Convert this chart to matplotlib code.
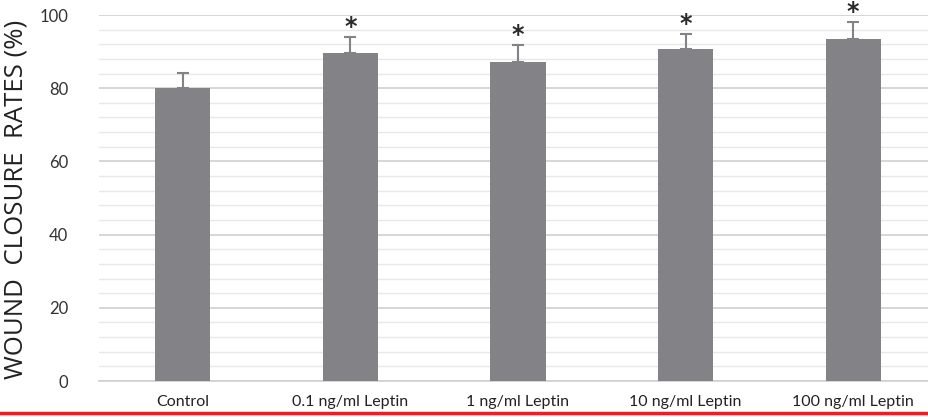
import matplotlib.pyplot as plt
from matplotlib.lines import Line2D
from matplotlib.ticker import MultipleLocator

plt.rcParams['font.family'] = ['Lato', 'DejaVu Sans']

# data
categories = ['Control', '0.1 ng/ml Leptin', '1 ng/ml Leptin', '10 ng/ml Leptin', '100 ng/ml Leptin']
rates = [80.1, 89.6, 87.2, 90.6, 93.5]
errors = [4.1, 4.4, 4.6, 4.3, 4.6]
significant = [False, True, True, True, True]

fig = plt.figure(figsize=(9.29, 4.17), dpi=100)
ax = fig.add_axes([99 / 929, 36 / 417, 838 / 929, 366 / 417])

x = list(range(len(categories)))
ax.bar(x, rates, width=0.33, color='#838387', zorder=3)
ax.errorbar(x, rates, yerr=[[0] * len(errors), errors], fmt='none', ecolor='#838387',
            elinewidth=1.5, capsize=4, capthick=1.5, zorder=3)

# asterisks above significant bars
for xi, r, e, s in zip(x, rates, errors, significant):
    if s:
        ax.text(xi, r + e + 2.6, '*', ha='center', va='center', fontsize=17,
                fontweight='bold', color='#2a2a2a', family='DejaVu Sans', zorder=4,
                clip_on=False)

ax.set_xlim(-0.5, len(categories) - 0.5)
ax.set_ylim(0, 100)
ax.yaxis.set_major_locator(MultipleLocator(20))
ax.yaxis.set_minor_locator(MultipleLocator(4))
ax.grid(which='major', axis='y', color='#cfcfcf', linewidth=1.2, zorder=0)
ax.grid(which='minor', axis='y', color='#e8e8e8', linewidth=1.0, zorder=0)

for sp in ['top', 'right', 'left']:
    ax.spines[sp].set_visible(False)
ax.spines['bottom'].set_color('#cfcfcf')
ax.spines['bottom'].set_linewidth(1.2)

ax.set_xticks(x)
ax.set_xticklabels(categories, fontsize=11.5, color='#222222')
ax.tick_params(axis='x', length=0, pad=10)
ax.tick_params(axis='y', which='both', length=0, pad=22, labelsize=12, labelcolor='#333333')

ax.set_ylabel('WOUND  CLOSURE  RATES (%)', fontsize=18.5, color='#222222',
              family=['Open Sans', 'DejaVu Sans'])
ax.yaxis.set_label_coords(-0.084, 0.495)

fig.add_artist(Line2D([0, 1], [4 / 417, 4 / 417], color='#ee1c24', linewidth=2.5,
                      transform=fig.transFigure))

fig.savefig('out.png', dpi=100)
